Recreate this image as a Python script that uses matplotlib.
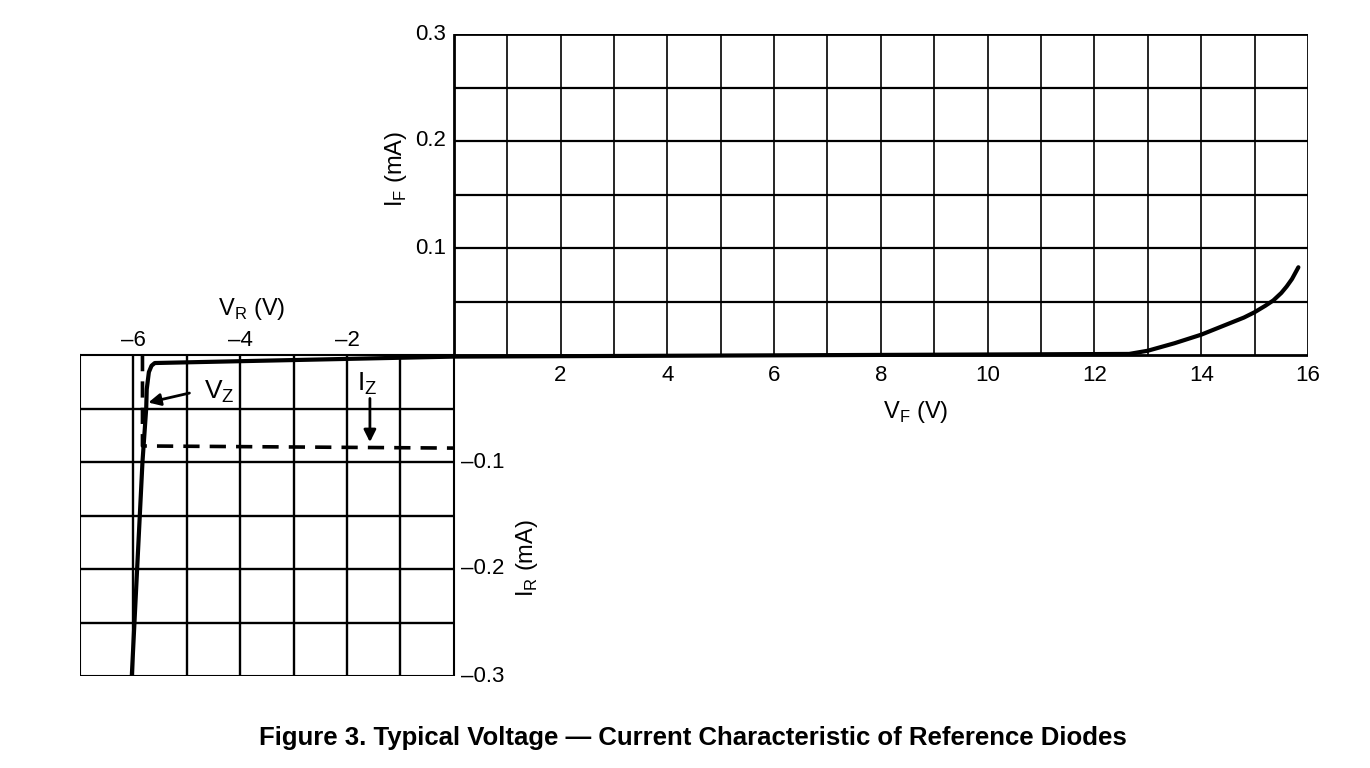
import matplotlib
matplotlib.use('Agg')
import matplotlib.pyplot as plt

plt.rcParams['font.family'] = ['Liberation Sans Narrow', 'Liberation Sans', 'DejaVu Sans']

# characteristic curve (V, mA)
curve_v = [-6.03, -5.83, -5.76, -5.75, -5.71, -5.66, -5.60, 0.0, 12.65,
           13.0, 13.5, 14.0, 14.25, 14.6, 14.8, 15.0, 15.2, 15.35, 15.5, 15.6, 15.7, 15.82]
curve_i = [-0.30, -0.10, -0.05, -0.032, -0.016, -0.010, -0.0075, -0.0015, 0.001,
           0.004, 0.011, 0.019, 0.024, 0.031, 0.035, 0.040, 0.046, 0.051, 0.058, 0.064, 0.071, 0.082]

# dashed Vz / Iz guide
iz_v = [-5.83, -5.83, 0.0]
iz_i = [0.0, -0.085, -0.087]

vf_ticks = [2, 4, 6, 8, 10, 12, 14, 16]
vr_ticks = [-6, -4, -2]
if_ticks = [0.1, 0.2, 0.3]
ir_ticks = [-0.1, -0.2, -0.3]

fig = plt.figure(figsize=(13.7, 7.68), dpi=100)
ax = fig.add_axes([80/1370, 92/768, 1228/1370, 642/768])
ax.set_xlim(-7, 16)
ax.set_ylim(-0.3, 0.3)
ax.axis('off')

# grid, forward quadrant
ax.vlines(range(1, 16), 0, 0.3, color='black', lw=1.2)
ax.hlines([0.05, 0.1, 0.15, 0.2, 0.25], 0, 16, color='black', lw=1.6)
# grid, reverse quadrant
ax.vlines(range(-6, 0), -0.3, 0, color='black', lw=1.7)
ax.hlines([-0.05, -0.1, -0.15, -0.2, -0.25], -7, 0, color='black', lw=1.7)
# borders
ax.plot([0, 16, 16, 0, 0], [0, 0, 0.3, 0.3, 0], color='black', lw=2.0)
ax.plot([-7, 0, 0, -7, -7], [0, 0, -0.3, -0.3, 0], color='black', lw=1.5)

ax.plot(curve_v, curve_i, color='black', lw=3, solid_capstyle='round', solid_joinstyle='round')
ax.plot(iz_v, iz_i, color='black', lw=2.6, dashes=(4.5, 2.8))

fs = 16
for v in vf_ticks:
    ax.text(v, -0.019, str(v), ha='center', va='center', fontsize=fs)
for v in vr_ticks:
    ax.text(v, 0.014, '\u2013' + str(abs(v)), ha='center', va='center', fontsize=fs)
for i in if_ticks:
    ax.text(-0.15, i, f'{i:.1f}', ha='right', va='center', fontsize=fs)
for i in ir_ticks:
    ax.text(0.13, i, '\u2013' + f'{abs(i):.1f}', ha='left', va='center', fontsize=fs)

lfs = 17
ax.text(-3.78, 0.043, r'V$_{\mathregular{R}}$ (V)', ha='center', va='center', fontsize=lfs)
ax.text(8.65, -0.053, r'V$_{\mathregular{F}}$ (V)', ha='center', va='center', fontsize=lfs)
ax.text(-1.09, 0.174, r'I$_{\mathregular{F}}$ (mA)', ha='center', va='center',
        rotation=90, fontsize=lfs)
ax.text(1.38, -0.19, r'I$_{\mathregular{R}}$ (mA)', ha='center', va='center',
        rotation=90, fontsize=lfs)

ax.annotate('', xy=(-5.77, -0.045), xytext=(-4.9, -0.035),
            arrowprops=dict(arrowstyle='-|>', color='black', lw=2, mutation_scale=18))
ax.text(-4.68, -0.034, r'V$_{\mathregular{Z}}$', ha='left', va='center', fontsize=lfs + 2)
ax.annotate('', xy=(-1.57, -0.084), xytext=(-1.57, -0.038),
            arrowprops=dict(arrowstyle='-|>', color='black', lw=2, mutation_scale=18))
ax.text(-1.62, -0.027, r'I$_{\mathregular{Z}}$', ha='center', va='center', fontsize=lfs + 2)

fig.text(693/1370, 1 - 738/768,
         'Figure 3. Typical Voltage \u2014 Current Characteristic of Reference Diodes',
         ha='center', va='center', fontsize=18.5, fontweight='bold')

fig.savefig('out.png', dpi=100)
